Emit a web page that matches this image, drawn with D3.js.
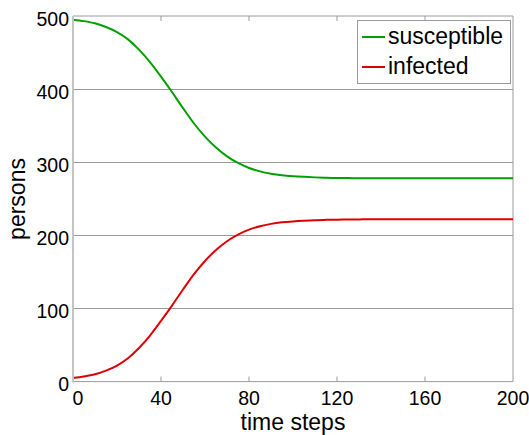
<!DOCTYPE html>
<html>
<head>
<meta charset="utf-8">
<script src="https://cdn.jsdelivr.net/npm/d3@7"></script>
<style>
  html, body { margin: 0; padding: 0; background: #fff; }
  svg { display: block; font-family: "Liberation Sans", Arial, Helvetica, sans-serif; }
</style>
</head>
<body>
<svg id="chart" width="529" height="435"></svg>
<script>
const timeSteps = d3.range(0, 201, 5);
const susceptible = [495, 493, 490, 485, 478, 468, 454, 437, 417, 396, 374, 353, 335, 320, 308, 299, 292.2, 287.5, 284.3, 282.2, 280.9, 280, 279.3, 278.8, 278.5, 278.3,
  278.15, 278, 278, 278, 278, 278, 278, 278, 278, 278, 278, 278, 278, 278, 278];
const infected = [5, 7, 10, 15, 22, 32, 46, 63, 83, 104, 126, 147, 165, 180, 192, 201, 207.8, 212.5, 215.7, 217.8, 219.1, 220, 220.7, 221.2, 221.5, 221.7,
  221.85, 222, 222, 222, 222, 222, 222, 222, 222, 222, 222, 222, 222, 222, 222];
const seriesNames = ["susceptible", "infected"];
const seriesColors = ["#00a000", "#dd0000"];
const xTicks = [0, 40, 80, 120, 160, 200];
const yTicks = [0, 100, 200, 300, 400, 500];
const xTitle = "time steps";
const yTitle = "persons";

const svg = d3.select("#chart");
const L = 73, R = 513, T = 16, B = 381.6;
const x = d3.scaleLinear().domain([0, 200]).range([L, R]);
const y = d3.scaleLinear().domain([0, 500]).range([B, T]);

// gridlines
svg.append("g").selectAll("line").data(yTicks.filter(v => v > 0 && v < 500)).join("line")
  .attr("x1", L).attr("x2", R).attr("y1", d => y(d)).attr("y2", d => y(d))
  .attr("stroke", "#9a9a9a").attr("stroke-width", 1).attr("shape-rendering", "crispEdges");

// frame (top, right, bottom)
svg.append("path")
  .attr("d", `M${L},${T}H${R}V${B}H${L}`)
  .attr("fill", "none").attr("stroke", "#9a9a9a").attr("stroke-width", 1);

// inward ticks top & bottom
const tg = svg.append("g");
xTicks.filter(v => v > 0 && v < 200).forEach(v => {
  tg.append("line").attr("x1", x(v)).attr("x2", x(v)).attr("y1", B).attr("y2", B - 5)
    .attr("stroke", "#9a9a9a");
  tg.append("line").attr("x1", x(v)).attr("x2", x(v)).attr("y1", T).attr("y2", T + 5)
    .attr("stroke", "#9a9a9a");
});

// lines
const line = d3.line().x((d, i) => x(timeSteps[i])).y(d => y(d)).curve(d3.curveMonotoneX);
[susceptible, infected].forEach((s, k) => {
  svg.append("path").datum(s).attr("d", line)
    .attr("fill", "none").attr("stroke", seriesColors[k]).attr("stroke-width", 2);
});

// left axis line
svg.append("line").attr("x1", L).attr("x2", L).attr("y1", T).attr("y2", B + 1)
  .attr("stroke", "#c4c4c4").attr("stroke-width", 2);

// y tick labels
svg.append("g").selectAll("text").data(yTicks).join("text")
  .attr("x", 69).attr("y", d => y(d) + 9.5)
  .attr("text-anchor", "end").attr("font-size", 19.5).attr("fill", "#000")
  .text(d => d);

// x tick labels
svg.append("g").selectAll("text").data(xTicks).join("text")
  .attr("x", d => d === 0 ? x(d) + 5 : x(d)).attr("y", 404.5)
  .attr("text-anchor", "middle").attr("font-size", 19.5).attr("fill", "#000")
  .text(d => d);

// axis titles
svg.append("text").attr("x", (L + R) / 2).attr("y", 430)
  .attr("text-anchor", "middle").attr("font-size", 23).text(xTitle);
svg.append("text").attr("transform", "translate(25,199) rotate(-90)")
  .attr("text-anchor", "middle").attr("font-size", 23).text(yTitle);

// legend
const lg = svg.append("g");
lg.append("rect").attr("x", 357.5).attr("y", 20.5).attr("width", 153).attr("height", 63)
  .attr("fill", "#fff").attr("stroke", "#9a9a9a").attr("stroke-width", 1);
seriesNames.forEach((n, k) => {
  const yy = 37 + k * 30;
  lg.append("line").attr("x1", 362).attr("x2", 385).attr("y1", yy).attr("y2", yy)
    .attr("stroke", seriesColors[k]).attr("stroke-width", 2);
  lg.append("text").attr("x", 388).attr("y", yy + 7).attr("font-size", 23).text(n);
});
</script>
</body>
</html>
